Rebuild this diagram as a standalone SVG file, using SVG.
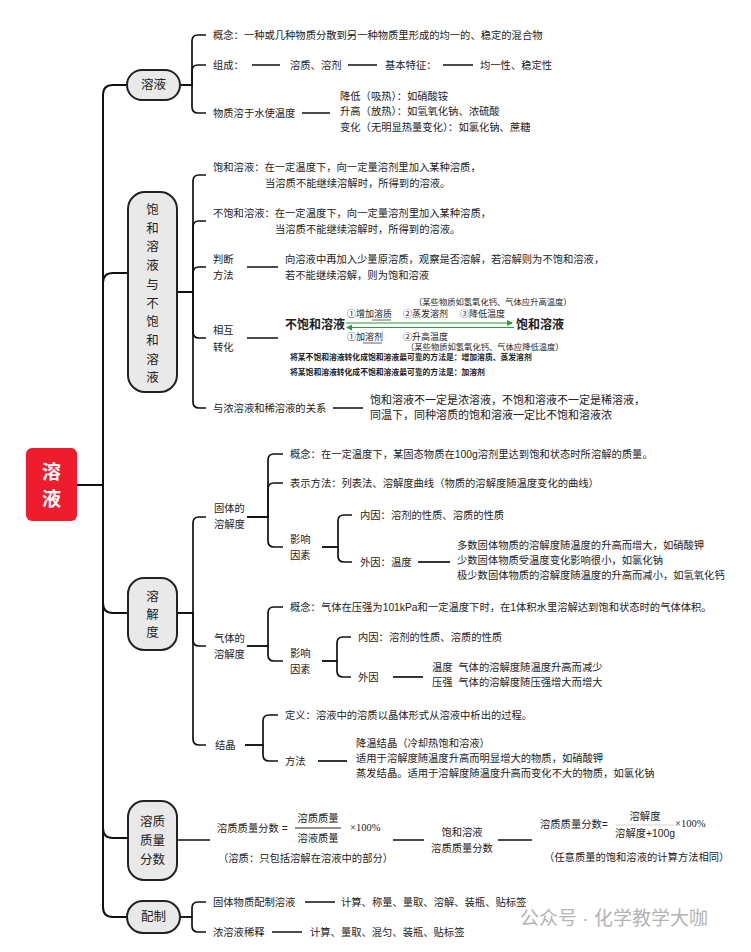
<svg xmlns="http://www.w3.org/2000/svg" width="751" height="952" viewBox="0 0 751 952">
<defs>
<style>
text{font-family:"Liberation Sans","Noto Sans CJK SC",sans-serif;fill:#222;dominant-baseline:central}
.t{font-size:10.3px}
.m{font-size:11px}
.s{font-size:9px}
.xs{font-size:8.3px}
.xb{font-size:7.8px;font-weight:bold}
.b{font-size:12px;font-weight:bold}
.n{font-size:12.5px;text-anchor:middle}
.c{text-anchor:middle}
.f{font-family:"Liberation Serif","Noto Sans CJK SC",serif;font-size:10.5px}
.wm{font-size:19px;fill:#b4b4b4}
.node{fill:#e9e9e9;stroke:#222;stroke-width:2}
.ln{fill:none;stroke:#111;stroke-width:2}
.br{fill:none;stroke:#111;stroke-width:1.7}
.gr{stroke:#2e9a3c;stroke-width:1.2;fill:none}
.ul{stroke:#222;stroke-width:0.7}
</style>
<marker id="ah" viewBox="0 0 6 6" refX="5" refY="3" markerWidth="5" markerHeight="5" orient="auto-start-reverse">
<path d="M0,0 L6,3 L0,6 z" fill="#2e9a3c"/>
</marker>
</defs>
<rect width="751" height="952" fill="#fff"/>

<g id="connectors">
<path class="ln" d="M77,485 H103 V95 Q103,85 113,85 H127"/>
<path class="ln" d="M77,485 H103 V283 Q103,273 113,273 H128"/>
<path class="ln" d="M77,485 H103 V603 Q103,613 113,613 H128"/>
<path class="ln" d="M77,485 H103 V828 Q103,838 113,838 H128"/>
<path class="ln" d="M77,485 H103 V907 Q103,917 113,917 H127"/>
<path class="br" d="M180,85 H192 V41 Q192,35 198,35 H206"/>
<path class="br" d="M180,85 H192 V71 Q192,65 198,65 H206"/>
<path class="br" d="M180,85 H192 V107 Q192,113 198,113 H206"/>
<path class="br" d="M252,65 H280 M348,65 H377 M443,65 H473 M302,113 H330"/>
<path class="br" d="M177,292 H193 V181 Q193,175 199,175 H206"/>
<path class="br" d="M177,292 H193 V227 Q193,221 199,221 H206"/>
<path class="br" d="M177,292 H193 V273 Q193,267 199,267 H206"/>
<path class="br" d="M177,292 H193 V332 Q193,338 199,338 H206"/>
<path class="br" d="M177,292 H193 V402 Q193,408 199,408 H206"/>
<path class="br" d="M247,267 H278 M247,338 H278 M333,408 H363"/>
<path class="br" d="M177,613 H193 V523 Q193,517 199,517 H206"/>
<path class="br" d="M177,613 H193 V640 Q193,646 199,646 H206"/>
<path class="br" d="M177,613 H193 V739 Q193,745 199,745 H206"/>
<path class="br" d="M247,517 H268 V460 Q268,454 274,454 H283"/>
<path class="br" d="M247,517 H268 V489 Q268,483 274,483 H283"/>
<path class="br" d="M247,517 H268 V541 Q268,547 274,547 H283"/>
<path class="br" d="M322,547 H338 V521 Q338,515 344,515 H352"/>
<path class="br" d="M322,547 H338 V556 Q338,562 344,562 H352"/>
<path class="br" d="M418,562 H450"/>
<path class="br" d="M247,646 H268 V613 Q268,607 274,607 H283"/>
<path class="br" d="M247,646 H268 V655 Q268,661 274,661 H283"/>
<path class="br" d="M322,661 H337 V643 Q337,637 343,637 H351"/>
<path class="br" d="M322,661 H337 V671 Q337,677 343,677 H351"/>
<path class="br" d="M393,677 H423"/>
<path class="br" d="M245,745 H263 V721 Q263,715 269,715 H278"/>
<path class="br" d="M245,745 H263 V755 Q263,761 269,761 H278"/>
<path class="br" d="M318,761 H347"/>
<path class="br" d="M177,840 H210 M393,840 H424 M498,840 H532"/>
<path class="br" d="M180,917 H192 V908 Q192,902 198,902 H206"/>
<path class="br" d="M180,917 H192 V926 Q192,932 198,932 H206"/>
<path class="br" d="M305,902 H335 M272,932 H302"/>
<line class="gr" x1="346" y1="323" x2="512" y2="323" marker-end="url(#ah)"/>
<line class="gr" x1="347" y1="327.5" x2="514" y2="327.5" marker-start="url(#ah)"/>
</g>

<g id="root">
<rect x="26" y="448" width="51" height="73" rx="6" fill="#ef1c2e"/>
<text x="51.5" y="472" class="c" style="font-size:19px;font-weight:bold;fill:#fff">溶</text>
<text x="51.5" y="499" class="c" style="font-size:19px;font-weight:bold;fill:#fff">液</text>
</g>

<g id="n-rongye">
<rect class="node" x="127" y="70" width="53" height="30" rx="15"/>
<text x="153.5" y="85" class="n">溶液</text>
</g>

<g id="n-baohe">
<rect class="node" x="128" y="192" width="49" height="200" rx="17"/>
<text x="152.5" y="210" class="n">饱</text>
<text x="152.5" y="228.7" class="n">和</text>
<text x="152.5" y="247.4" class="n">溶</text>
<text x="152.5" y="266.1" class="n">液</text>
<text x="152.5" y="284.8" class="n">与</text>
<text x="152.5" y="303.5" class="n">不</text>
<text x="152.5" y="322.2" class="n">饱</text>
<text x="152.5" y="340.9" class="n">和</text>
<text x="152.5" y="359.6" class="n">溶</text>
<text x="152.5" y="378.3" class="n">液</text>
</g>

<g id="n-rongjiedu">
<rect class="node" x="128" y="578" width="49" height="72" rx="16"/>
<text x="152.5" y="597" class="n">溶</text>
<text x="152.5" y="615" class="n">解</text>
<text x="152.5" y="633" class="n">度</text>
</g>

<g id="n-fenshu">
<rect class="node" x="128" y="801" width="49" height="79" rx="16"/>
<text x="152.5" y="822" class="n">溶质</text>
<text x="152.5" y="841" class="n">质量</text>
<text x="152.5" y="860" class="n">分数</text>
</g>

<g id="n-peizhi">
<rect class="node" x="127" y="901" width="53" height="32" rx="16"/>
<text x="153.5" y="917" class="n">配制</text>
</g>

<g id="s1-texts">
<text x="213" y="35" class="t">概念：一种或几种物质分散到另一种物质里形成的均一的、稳定的混合物</text>
<text x="213" y="65" class="t">组成：</text>
<text x="290" y="65" class="t">溶质、溶剂</text>
<text x="385" y="65" class="t">基本特征：</text>
<text x="480" y="65" class="t">均一性、稳定性</text>
<text x="213" y="113" class="t">物质溶于水使温度</text>
<text x="340" y="96" class="t">降低（吸热）：如硝酸铵</text>
<text x="340" y="111" class="t">升高（放热）：如氢氧化钠、浓硫酸</text>
<text x="340" y="127" class="t">变化（无明显热量变化）：如氯化钠、蔗糖</text>
</g>

<g id="s2-texts">
<text x="213" y="167" class="t">饱和溶液：在一定温度下，向一定量溶剂里加入某种溶质，</text>
<text x="265" y="183" class="t">当溶质不能继续溶解时，所得到的溶液。</text>
<text x="213" y="213" class="t">不饱和溶液：在一定温度下，向一定量溶剂里加入某种溶质，</text>
<text x="275" y="229" class="t">当溶质不能继续溶解时，所得到的溶液。</text>
<text x="213" y="259" class="t">判断</text>
<text x="213" y="275" class="t">方法</text>
<text x="285" y="259" class="t">向溶液中再加入少量原溶质，观察是否溶解，若溶解则为不饱和溶液，</text>
<text x="285" y="275" class="t">若不能继续溶解，则为饱和溶液</text>
<text x="213" y="330" class="t">相互</text>
<text x="213" y="347" class="t">转化</text>
<text x="285" y="325" class="b">不饱和溶液</text>
<text x="516" y="325" class="b">饱和溶液</text>
<text x="414" y="302" class="xs">（某些物质如氢氧化钙、气体应升高温度）</text>
<text x="347" y="314" class="s">①增加溶质</text>
<line class="ul" x1="372" y1="320" x2="391" y2="320"/>
<text x="403" y="314" class="s">②蒸发溶剂</text>
<text x="460" y="314" class="s">③降低温度</text>
<text x="347" y="337" class="s">①加溶剂</text>
<line class="ul" x1="363" y1="343" x2="382" y2="343"/>
<text x="403" y="337" class="s">②升高温度</text>
<text x="406" y="347" class="xs">（某些物质如氢氧化钙、气体应降低温度）</text>
<text x="290" y="357" class="xb">将某不饱和溶液转化成饱和溶液最可靠的方法是：增加溶质、蒸发溶剂</text>
<text x="290" y="372" class="xb">将某饱和溶液转化成不饱和溶液最可靠的方法是：加溶剂</text>
<text x="213" y="408" class="t">与浓溶液和稀溶液的关系</text>
<text x="370" y="400" class="m">饱和溶液不一定是浓溶液，不饱和溶液不一定是稀溶液，</text>
<text x="370" y="415" class="m">同温下，同种溶质的饱和溶液一定比不饱和溶液浓</text>
</g>

<g id="s3-texts">
<text x="214" y="508" class="t">固体的</text>
<text x="214" y="524" class="t">溶解度</text>
<text x="290" y="454" class="t">概念：在一定温度下，某固态物质在100g溶剂里达到饱和状态时所溶解的质量。</text>
<text x="290" y="483" class="t">表示方法：列表法、溶解度曲线（物质的溶解度随温度变化的曲线）</text>
<text x="290" y="539" class="t">影响</text>
<text x="290" y="555" class="t">因素</text>
<text x="360" y="515" class="t">内因：溶剂的性质、溶质的性质</text>
<text x="360" y="562" class="t">外因：温度</text>
<text x="457" y="545" class="t">多数固体物质的溶解度随温度的升高而增大，如硝酸钾</text>
<text x="457" y="560" class="t">少数固体物质受温度变化影响很小，如氯化钠</text>
<text x="457" y="575" class="t">极少数固体物质的溶解度随温度的升高而减小，如氢氧化钙</text>
<text x="214" y="638" class="t">气体的</text>
<text x="214" y="654" class="t">溶解度</text>
<text x="290" y="607" class="t">概念：气体在压强为101kPa和一定温度下时，在1体积水里溶解达到饱和状态时的气体体积。</text>
<text x="290" y="653" class="t">影响</text>
<text x="290" y="669" class="t">因素</text>
<text x="358" y="637" class="t">内因：溶剂的性质、溶质的性质</text>
<text x="358" y="677" class="t">外因</text>
<text x="432" y="667" class="t">温度&#160;&#160;气体的溶解度随温度升高而减少</text>
<text x="432" y="682" class="t">压强&#160;&#160;气体的溶解度随压强增大而增大</text>
<text x="215" y="745" class="t">结晶</text>
<text x="285" y="715" class="t">定义：溶液中的溶质以晶体形式从溶液中析出的过程。</text>
<text x="285" y="761" class="t">方法</text>
<text x="356" y="743" class="t">降温结晶（冷却热饱和溶液）</text>
<text x="356" y="758" class="t">适用于溶解度随温度升高而明显增大的物质，如硝酸钾</text>
<text x="356" y="773" class="t">蒸发结晶。适用于溶解度随温度升高而变化不大的物质，如氯化钠</text>
</g>

<g id="s4-texts">
<text x="217" y="828" class="t">溶质质量分数 =</text>
<text x="318" y="818" class="t c">溶质质量</text>
<line x1="295" y1="828" x2="341" y2="828" stroke="#222" stroke-width="1"/>
<text x="318" y="838" class="t c">溶液质量</text>
<text x="350" y="827" class="f">×100%</text>
<text x="218" y="858" class="t">（溶质：只包括溶解在溶液中的部分）</text>
<text x="462" y="832" class="t c">饱和溶液</text>
<text x="462" y="848" class="t c">溶质质量分数</text>
<text x="540" y="824" class="t">溶质质量分数=</text>
<text x="645" y="816" class="t c">溶解度</text>
<line x1="616" y1="825" x2="674" y2="825" stroke="#bbb" stroke-width="0.6"/>
<text x="645" y="833" class="t c">溶解度+100g</text>
<text x="675" y="823" class="f">×100%</text>
<text x="544" y="857" class="t">（任意质量的饱和溶液的计算方法相同）</text>
</g>

<g id="s5-texts">
<text x="213" y="902" class="t">固体物质配制溶液</text>
<text x="341" y="902" class="t">计算、称量、量取、溶解、装瓶、贴标签</text>
<text x="213" y="932" class="t">浓溶液稀释</text>
<text x="310" y="932" class="t">计算、量取、混匀、装瓶、贴标签</text>
<text x="520" y="918" class="wm">公众号 · 化学教学大咖</text>
</g>
</svg>
